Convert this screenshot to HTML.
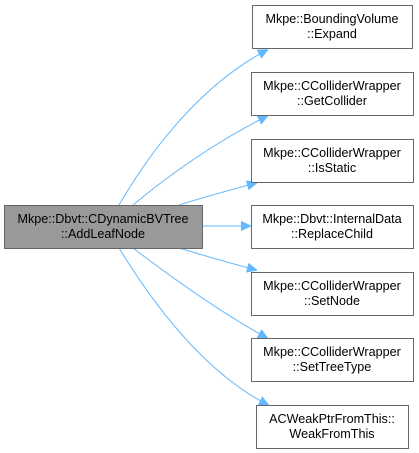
<!DOCTYPE html>
<html><head><style>
html,body{margin:0;padding:0;background:#fff;}
svg{display:block;}
text{font-family:"Liberation Sans",Arial,sans-serif;font-size:12.6px;fill:#000;}
</style></head><body>
<svg width="419" height="453" viewBox="0 0 419 453" xmlns="http://www.w3.org/2000/svg">
<defs>
<marker id="a" markerWidth="10" markerHeight="10" refX="9" refY="5" orient="auto" markerUnits="userSpaceOnUse">
<path d="M0,0.5 L10,5 L0,9.5 Z" fill="#63b8ff" stroke="#63b8ff"/>
</marker>
</defs>
<g fill="none" stroke="#63b8ff" stroke-width="1">
<path d="M119,205 C160,135 210,80 267,50" marker-end="url(#a)"/>
<path d="M133,205 C175,170 220,140 267,116" marker-end="url(#a)"/>
<path d="M179,205 C205,197 230,190 256,183" marker-end="url(#a)"/>
<path d="M202,226 L250,226" marker-end="url(#a)"/>
<path d="M179,248 C205,256 230,263 256,270" marker-end="url(#a)"/>
<path d="M133,248 C175,280 220,312 267,338" marker-end="url(#a)"/>
<path d="M119,248 C160,315 210,375 268,405" marker-end="url(#a)"/>
</g>
<g stroke="#666" stroke-width="1">
<rect x="4.5" y="205.5" width="198" height="43" fill="#999"/>
<rect x="252.5" y="5.5" width="160" height="43" fill="#fff"/>
<rect x="251.5" y="72.5" width="162" height="43" fill="#fff"/>
<rect x="251.5" y="139.5" width="162" height="43" fill="#fff"/>
<rect x="251.5" y="205.5" width="162" height="43" fill="#fff"/>
<rect x="251.5" y="272.5" width="162" height="43" fill="#fff"/>
<rect x="251.5" y="338.5" width="162" height="43" fill="#fff"/>
<rect x="256.5" y="405.5" width="152" height="43" fill="#fff"/>
</g>
<g text-anchor="middle">
<text x="103" y="223">Mkpe::Dbvt::CDynamicBVTree</text>
<text x="103" y="238">::AddLeafNode</text>
<text x="332" y="23">Mkpe::BoundingVolume</text>
<text x="332" y="38">::Expand</text>
<text x="332" y="90">Mkpe::CColliderWrapper</text>
<text x="332" y="105">::GetCollider</text>
<text x="332" y="157">Mkpe::CColliderWrapper</text>
<text x="332" y="172">::IsStatic</text>
<text x="332" y="223">Mkpe::Dbvt::InternalData</text>
<text x="332" y="238">::ReplaceChild</text>
<text x="332" y="290">Mkpe::CColliderWrapper</text>
<text x="332" y="305">::SetNode</text>
<text x="332" y="356">Mkpe::CColliderWrapper</text>
<text x="332" y="371">::SetTreeType</text>
<text x="332" y="423">ACWeakPtrFromThis::</text>
<text x="332" y="438">WeakFromThis</text>
</g>
</svg>
</body></html>
